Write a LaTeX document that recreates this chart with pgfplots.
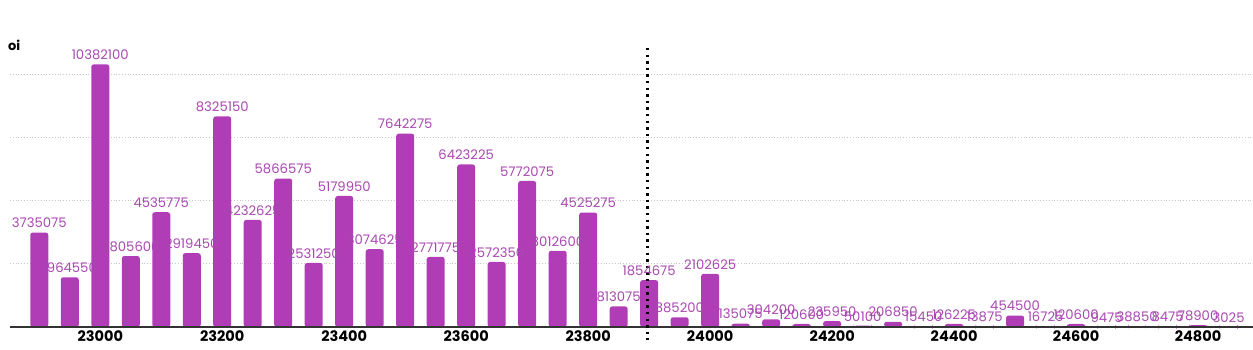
\documentclass[border=0pt]{standalone}
\usepackage{pgfplots}
\pgfplotsset{compat=1.18}
\usepackage{pgfplotstable}
\usepackage{fontspec}
\setmainfont{Poppins}
\definecolor{barc}{HTML}{B03CB6}
\definecolor{labc}{HTML}{A848B0}
\definecolor{gridc}{HTML}{C8C8C8}
\pgfplotstableread{
x y lab
22900 3735075 3735075
22950 1964550 1964550
23000 10382100 10382100
23050 2805600 2805600
23100 4535775 4535775
23150 2919450 2919450
23200 8325150 8325150
23250 4232625 4232625
23300 5866575 5866575
23350 2531250 2531250
23400 5179950 5179950
23450 3074625 3074625
23500 7642275 7642275
23550 2771775 2771775
23600 6423225 6423225
23650 2572350 2572350
23700 5772075 5772075
23750 3012600 3012600
23800 4525275 4525275
23850 813075 813075
23900 1854675 1854675
23950 385200 385200
24000 2102625 2102625
24050 135075 135075
24100 304200 304200
24150 120600 120600
24200 235950 235950
24250 50100 50100
24300 206850 206850
24350 15450 15450
24400 126225 126225
24450 13875 13875
24500 454500 454500
24550 16725 16725
24600 120600 120600
24650 9475 9475
24700 38850 38850
24750 8475 8475
24800 78900 78900
24850 3025 3025
}\oidata
\begin{document}
\begin{tikzpicture}
\useasboundingbox (0,0) rectangle (1253pt,349pt);
\node[anchor=west,inner sep=0pt,font=\fontsize{13}{13}\selectfont\bfseries] at (8pt,304pt) {oi};
\begin{axis}[
  at={(10pt,22pt)}, anchor=south west,
  scale only axis, width=1243pt, height=327pt,
  xmin=22852, xmax=24890, ymin=0, ymax=12925000,
  axis lines=none,
  clip=false,
  xtick=\empty, ytick=\empty,
]
\foreach \g in {2500000,5000000,7500000,10000000}{
  \edef\tmp{\noexpand\draw[gridc, dotted, line width=0.8pt] (axis cs:22852,\g) -- (axis cs:24890,\g);}
  \tmp
}
\addplot[ybar, bar width=18pt, fill=barc, draw=none, rounded corners=2.5pt,
  point meta=explicit symbolic,
  nodes near coords={\pgfplotspointmeta},
  nodes near coords style={font=\fontsize{13.2}{13.2}\selectfont, text=labc, anchor=south, inner sep=4.5pt},
] table[x=x, y=y, meta=lab] {\oidata};
\draw[black!80, line width=2pt] (axis cs:22852,0) -- (axis cs:24890,0);
\foreach \t in {23000,23200,23400,23600,23800,24000,24200,24400,24600,24800}{
  \edef\tmp{\noexpand\node[font=\noexpand\fontsize{14.5}{14.5}\noexpand\selectfont\noexpand\bfseries, anchor=north, inner sep=0pt] at (axis cs:\t,-130000) {\t};}
  \tmp
}
\draw[black, line width=2.4pt, dash pattern=on 2.4pt off 4.2pt] (axis cs:23897,11030000) -- (axis cs:23897,-520000);
\end{axis}
\end{tikzpicture}
\end{document}
